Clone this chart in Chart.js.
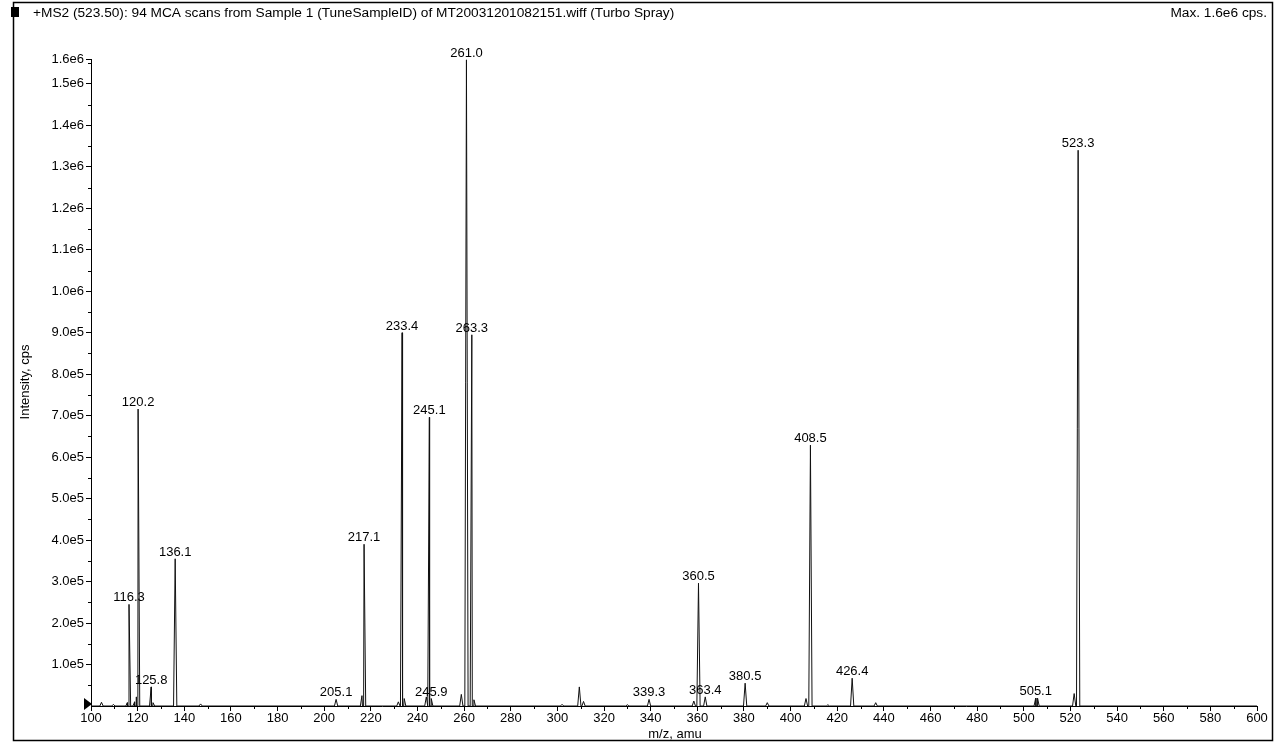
<!DOCTYPE html>
<html><head><meta charset="utf-8">
<script src="https://cdn.jsdelivr.net/npm/chart.js@4.4.1/dist/chart.umd.min.js"></script>
<style>html,body{margin:0;padding:0;background:#fff;}canvas{display:block;}</style>
</head><body>
<canvas id="c" width="1283" height="744"></canvas>
<script>
const titleText = '+MS2 (523.50): 94 MCA scans from Sample 1 (TuneSampleID) of MT20031201082151.wiff (Turbo Spray)';
const maxText = 'Max. 1.6e6 cps.';
const xAxisTitle = 'm/z, amu';
const yAxisTitle = 'Intensity, cps';

const peakMz = [104.5, 109.6, 115.6, 116.3, 118.7, 119.4, 120.2, 125.8, 126.6, 136.1, 147.0,
  205.1, 216.2, 217.1, 231.8, 233.4, 234.3, 243.8, 245.1, 245.9, 258.8, 261.0, 263.3, 264.2,
  302.0, 309.4, 311.2, 330.0, 339.3, 358.5, 360.5, 363.4, 380.5, 390.0, 406.6, 408.5, 416.0,
  426.4, 436.5, 505.1, 505.9, 521.6, 523.3];
const peakIntensity = [9000, 4000, 8000, 245000, 10000, 22000, 716000, 46000, 8000, 355000, 5000,
  16000, 25000, 390000, 10000, 900000, 18000, 22000, 696000, 18000, 28000, 1558000, 895000, 15000,
  4000, 46000, 11000, 3000, 16000, 12000, 296000, 22000, 55000, 8000, 18000, 629000, 3000,
  67000, 8000, 19000, 19000, 30000, 1340000];

const labelMz = [116.3, 120.2, 125.8, 136.1, 205.1, 217.1, 233.4, 245.1, 245.9, 261.0, 263.3,
  339.3, 360.5, 363.4, 380.5, 408.5, 426.4, 505.1, 523.3];
const labelText = ['116.3', '120.2', '125.8', '136.1', '205.1', '217.1', '233.4', '245.1', '245.9', '261.0', '263.3',
  '339.3', '360.5', '363.4', '380.5', '408.5', '426.4', '505.1', '523.3'];

const xTickValues = [100, 120, 140, 160, 180, 200, 220, 240, 260, 280, 300, 320, 340, 360, 380, 400,
  420, 440, 460, 480, 500, 520, 540, 560, 580, 600];
const yTickValues = [100000, 200000, 300000, 400000, 500000, 600000, 700000, 800000, 900000,
  1000000, 1100000, 1200000, 1300000, 1400000, 1500000, 1560000];
const yTickLabels = ['1.0e5', '2.0e5', '3.0e5', '4.0e5', '5.0e5', '6.0e5', '7.0e5', '8.0e5', '9.0e5',
  '1.0e6', '1.1e6', '1.2e6', '1.3e6', '1.4e6', '1.5e6', '1.6e6'];

const X_MIN = 100, X_MAX = 600, Y_MAX = 1560000;
const HALF_WIDTH = 0.7;

// build stick/profile points from the peak list
const pts = [{x: X_MIN, y: 0}, {x: X_MAX, y: 0}];
peakMz.forEach((m, i) => {
  pts.push({x: m - HALF_WIDTH, y: 0});
  pts.push({x: m, y: peakIntensity[i]});
  pts.push({x: m + HALF_WIDTH, y: 0});
});
pts.sort((a, b) => a.x - b.x);

const FONT = '13px "Liberation Sans", Arial, sans-serif';
const TITLE_FONT = '13.7px "Liberation Sans", Arial, sans-serif';

const decor = {
  id: 'decor',
  afterDraw(chart) {
    const ctx = chart.ctx;
    const xs = chart.scales.x, ys = chart.scales.y;
    const ca = chart.chartArea;
    ctx.save();
    // frame
    ctx.strokeStyle = '#000';
    ctx.lineWidth = 1.5;
    ctx.strokeRect(13.5, 2.5, 1259, 738);
    // title
    ctx.fillStyle = '#000';
    ctx.fillRect(11, 7, 8, 10);
    ctx.font = TITLE_FONT;
    ctx.textBaseline = 'middle';
    ctx.textAlign = 'left';
    ctx.fillText(titleText, 33, 13);
    ctx.textAlign = 'right';
    ctx.fillText(maxText, 1267, 13);
    // axis titles
    ctx.font = FONT;
    ctx.textAlign = 'center';
    ctx.fillText(xAxisTitle, 675, 734);
    ctx.save();
    ctx.translate(25, 382);
    ctx.rotate(-Math.PI / 2);
    ctx.fillText(yAxisTitle, 0, 0);
    ctx.restore();
    // minor ticks
    ctx.lineWidth = 1;
    ctx.beginPath();
    for (let v = X_MIN + 10; v < X_MAX; v += 20) {
      const px = Math.round(xs.getPixelForValue(v)) + 0.5;
      ctx.moveTo(px, ca.bottom);
      ctx.lineTo(px, ca.bottom + 3);
    }
    for (let v = 50000; v < Y_MAX; v += 100000) {
      const py = Math.round(ys.getPixelForValue(v)) + 0.5;
      ctx.moveTo(ca.left, py);
      ctx.lineTo(ca.left - 3, py);
    }
    ctx.stroke();
    // baseline marker triangle
    const y0 = ys.getPixelForValue(0);
    ctx.beginPath();
    ctx.moveTo(ca.left - 7, y0 - 8);
    ctx.lineTo(ca.left + 1, y0 - 2);
    ctx.lineTo(ca.left - 7, y0 + 4);
    ctx.closePath();
    ctx.fill();
    // peak labels
    ctx.textAlign = 'center';
    ctx.textBaseline = 'alphabetic';
    labelMz.forEach((m, i) => {
      const idx = peakMz.indexOf(m);
      const v = peakIntensity[idx];
      const px = xs.getPixelForValue(m);
      const py = ys.getPixelForValue(v);
      ctx.fillText(labelText[i], px, py - 3);
    });
    ctx.restore();
  }
};

new Chart(document.getElementById('c'), {
  type: 'scatter',
  data: {
    datasets: [{
      data: pts,
      showLine: true,
      borderColor: '#111',
      borderWidth: 1,
      pointRadius: 0,
      tension: 0,
      fill: false
    }]
  },
  options: {
    responsive: false,
    animation: false,
    events: [],
    layout: {padding: {left: 0, right: 26, top: 59, bottom: 0}},
    plugins: {legend: {display: false}, tooltip: {enabled: false}, title: {display: false}},
    scales: {
      x: {
        type: 'linear', min: X_MIN, max: X_MAX,
        afterBuildTicks(s) { s.ticks = xTickValues.map(v => ({value: v})); },
        afterFit(s) { s.height = 38; },
        ticks: {
          autoSkip: false, maxRotation: 0, padding: 0, color: '#000',
          font: {family: '"Liberation Sans", Arial, sans-serif', size: 13},
          callback: (v, i) => String(xTickValues[i])
        },
        grid: {display: true, drawOnChartArea: false, drawTicks: true, tickLength: 5, color: '#000'},
        border: {display: true, color: '#000', width: 1}
      },
      y: {
        type: 'linear', min: 0, max: Y_MAX,
        afterBuildTicks(s) { s.ticks = yTickValues.map(v => ({value: v})); },
        afterFit(s) { s.width = 91; },
        ticks: {
          autoSkip: false, padding: 2, color: '#000',
          font: {family: '"Liberation Sans", Arial, sans-serif', size: 13},
          callback: (v, i) => yTickLabels[i]
        },
        grid: {display: true, drawOnChartArea: false, drawTicks: true, tickLength: 5, color: '#000'},
        border: {display: true, color: '#000', width: 1}
      }
    }
  },
  plugins: [decor]
});
</script>
</body></html>
